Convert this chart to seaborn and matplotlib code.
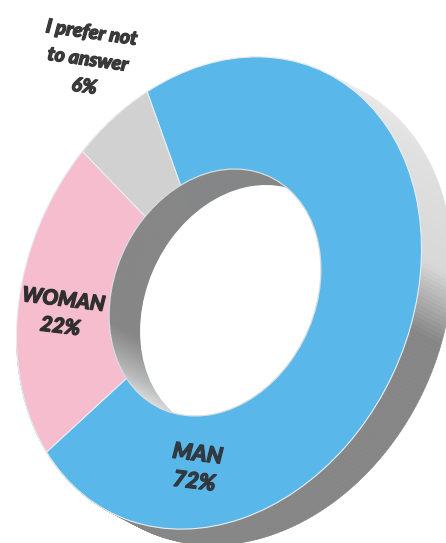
import numpy as np
import seaborn as sns
import matplotlib.pyplot as plt
import matplotlib.patheffects as pe
from matplotlib.collections import PolyCollection
from matplotlib.colors import LinearSegmentedColormap
from matplotlib.patches import Ellipse
from matplotlib.transforms import Affine2D

# Data
categories = ['MAN', 'WOMAN', 'I prefer not\nto answer']
values = [72, 22, 6]
colors = ['#5ab7ea', '#f6bdce', '#d1d1d1']

sns.set_theme(style='white')
plt.rcParams['font.family'] = ['Lato', 'DejaVu Sans']

fig, ax = plt.subplots(figsize=(4.46, 5.43), dpi=100)
fig.subplots_adjust(0, 0, 1, 1)

# the round pie gets squashed and sheared into the tilted ellipse, in pixel coords
tilt = Affine2D.from_values(202.5, -44, 0, -232, 219, 293)
# the hole sits a little left of the outer centre
hole = 0.523
hole_tilt = Affine2D.from_values(202.5 * hole, -44 * hole, 0, -232 * hole, 215, 292.5)
depth = np.array([31, 16])

wedges, _ = ax.pie(values, colors=sns.color_palette(colors), startangle=110.8, counterclock=False,
                   wedgeprops=dict(edgecolor='#e6eef2', linewidth=0.8), frame=True)
ax.set_aspect('auto')
ax.set_xlim(0, 446)
ax.set_ylim(543, 0)
ax.set_axis_off()
for w in wedges:
    w.set_transform(tilt + ax.transData)
    w.set_zorder(3)


def ring_quads(trans):
    t = np.radians(np.arange(0, 360.5, 1.0))
    pts = trans.transform(np.column_stack([np.cos(t), np.sin(t)]))
    return t, np.array([[pts[i], pts[i + 1], pts[i + 1] + depth, pts[i] + depth] for i in range(len(t) - 1)])


# outer side wall
shade = LinearSegmentedColormap.from_list('shade', [(0, '#868686'), (0.2, '#868686'), (0.37, '#d8d8d8'), (0.8, '#e4e4e4'), (1, '#eeeeee')])
t, quads = ring_quads(tilt)
deg = (np.degrees(t[:-1]) + 180) % 360 - 180
side_colors = shade(np.clip((deg + 40) / 100, 0, 1))
ax.add_collection(PolyCollection(quads, facecolors=side_colors, edgecolors=side_colors, linewidths=0.5, zorder=1))

# inner wall, only seen through the hole
t, quads = ring_quads(hole_tilt)
deg = np.degrees(t[:-1])
wall = LinearSegmentedColormap.from_list('wall', ['#868686', '#aeaeae', '#d0d0d0', '#e0e0e0'])
wall_colors = wall(np.clip((deg - 183) / 55, 0, 1))
hole_clip = Ellipse((0, 0), 2, 2, transform=hole_tilt + ax.transData)
walls = PolyCollection(quads, facecolors=wall_colors, edgecolors=wall_colors, linewidths=0.5, zorder=3.5)
ax.add_collection(walls)
walls.set_clip_path(hole_clip)
back = Ellipse((0, 0), 2, 2, facecolor='white', edgecolor='none', zorder=3.6,
               transform=hole_tilt + Affine2D().translate(*depth) + ax.transData)
ax.add_patch(back)
back.set_clip_path(hole_clip)
ax.add_patch(Ellipse((0, 0), 2, 2, facecolor='none', edgecolor='#d5dde2', linewidth=0.9, zorder=3.7,
                     transform=hole_tilt + ax.transData))

# labels
heavy = [pe.withStroke(linewidth=0.9, foreground='#333333')]
ax.text(88, 60, 'I prefer not\nto answer\n6%', fontsize=14, fontweight='black', fontstyle='italic', color='#3a3a3a',
        ha='center', va='center', rotation=-8, linespacing=1.72, zorder=4, path_effects=heavy)
ax.text(62, 313, 'WOMAN\n22%', fontsize=15, fontweight='black', fontstyle='italic', color='#2f2f2f',
        ha='center', va='center', rotation=-7, linespacing=1.5, zorder=4, path_effects=heavy)
ax.text(196, 468, 'MAN\n72%', fontsize=16, fontweight='black', fontstyle='italic', color='#2f3a45',
        ha='center', va='center', rotation=-7, linespacing=1.4, zorder=4, path_effects=heavy)

fig.savefig('out.png', dpi=100)
